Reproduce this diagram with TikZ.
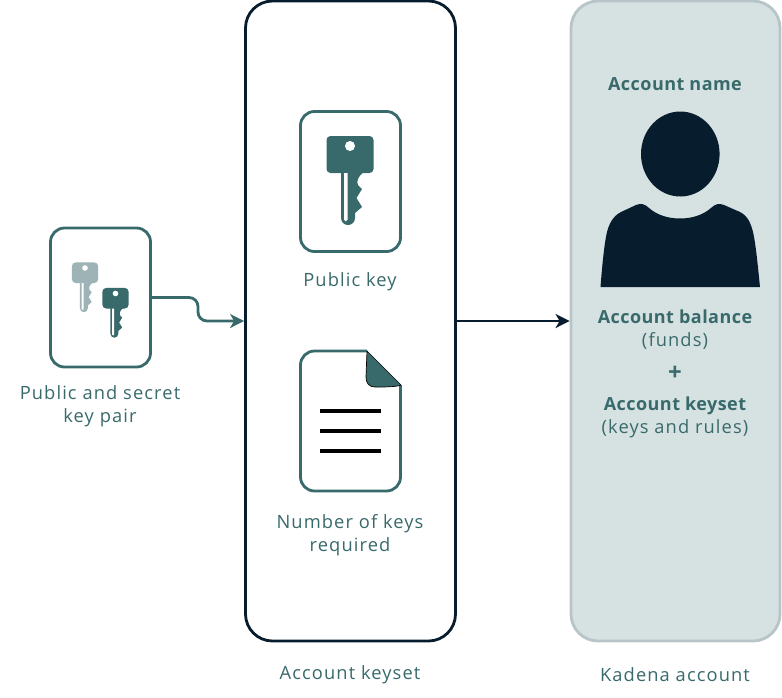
\documentclass[tikz,border=0pt]{standalone}
\usepackage{fontspec}
\setmainfont{Open Sans}
\newfontfamily\reglbl[LetterSpace=6]{Open Sans}
\newfontfamily\boldlbl[LetterSpace=2.5]{Open Sans Bold}
\usetikzlibrary{arrows.meta}
\definecolor{teal}{HTML}{396A6B}
\definecolor{tealL}{HTML}{9DB3B5}
\definecolor{navy}{HTML}{071D2E}
\definecolor{panelfill}{HTML}{D6E1E2}
\definecolor{panelline}{HTML}{B7C4C8}
\tikzset{
 cardbox/.style={draw=teal,line width=2.8pt,rounded corners=14pt,fill=white,minimum width=100pt,minimum height=140pt,inner sep=0pt},
 bigbox/.style={rounded corners=27pt,line width=2.8pt,minimum width=210pt,minimum height=640pt,inner sep=0pt},
 lbl/.style={text=teal,font=\fontsize{18.3}{23}\selectfont\reglbl,align=center,inner sep=0pt},
 blbl/.style={lbl,font=\fontsize{18}{23}\selectfont\boldlbl},
 tip/.style={-{Stealth[length=14pt,width=14pt,inset=4pt]}},
 pics/keyicon/.style={code={
  \fill[#1,rounded corners=4pt] (-23.5,-44) rectangle (23.5,-7);
  \fill[#1] (-9,-9) -- (-9,38) arc[start angle=180,end angle=0,radius=7]
     -- (5,33) -- (12,27) -- (6.5,18) -- (12,9) -- (8,5)
     .. controls (6.5,2) and (7,-3) .. (15,-9) -- cycle;
  \fill[white] (-6,-7) -- (-6,39.5) arc[start angle=180,end angle=0,radius=1.75] -- (-2.5,-7) -- cycle;
  \fill[white] (0,-34) circle[radius=5];
 }}
}
\begin{document}
\begin{tikzpicture}[x=1pt,y=-1pt]
\useasboundingbox (0,0) rectangle (782,697);
\fill[white] (0,0) rectangle (782,697);

\node[bigbox,draw=navy,fill=white] (keyset) at (350.5,321) {};
\node[bigbox,draw=panelline,fill=panelfill,minimum width=209pt] (account) at (675.5,321) {};
\node[cardbox,minimum height=139pt] (pair) at (100.5,297.5) {};
\node[cardbox] (pub) at (350.5,181.5) {};

% keys
\pic at (350,180) {keyicon=teal};
\pic[scale=.56] at (85,287) {keyicon=tealL};
\pic[scale=.56] at (115.5,312.5) {keyicon=teal};

% document
\path[fill=white,draw=teal,line width=2.8pt,rounded corners=14pt]
  (367,351) -- (300.5,351) -- (300.5,491) -- (400.5,491) -- (400.5,385);
\draw[draw=black,line width=.7pt,fill=teal,line join=round]
  (367,351) -- (401,385) .. controls (396,387) and (385,387) .. (375,387)
  .. controls (369,387) and (366,383) .. (366,377) -- cycle;
\coordinate (l1a) at (320,411); \coordinate (l1b) at (381,411);
\coordinate (l2a) at (320,431); \coordinate (l2b) at (381,431);
\coordinate (l3a) at (320,451); \coordinate (l3b) at (381,451);
\draw[black,line width=3.4pt] (l1a) -- (l1b) (l2a) -- (l2b) (l3a) -- (l3b);

% person
\fill[navy] (680.3,154) ellipse[x radius=39.3,y radius=42.5];
\fill[navy] (600.5,287) .. controls (602,268) and (604,245) .. (607,232)
  .. controls (609,224) and (613,216) .. (621,212)
  -- (636,205) .. controls (641,203) and (645,204) .. (649,208)
  .. controls (657,215) and (668,218.5) .. (680,218.5)
  .. controls (692,218.5) and (703,215) .. (711,208)
  .. controls (715,204) and (719,203) .. (724,205)
  -- (740,212) .. controls (748,216) and (751,224) .. (753,232)
  .. controls (756,245) and (758,268) .. (760,287) -- cycle;

% connectors
\draw[teal,line width=2.8pt,tip,rounded corners=9pt] (pair.east) -- (198,297.5) -- (198,321) -- (keyset.west);
\draw[navy,line width=2.8pt,tip] (keyset.east) -- (account.west);

% labels
\node[lbl] (t1) at (100,406) {Public and secret\\key pair};
\node[lbl] (t2) at (350,282) {Public key};
\node[lbl] (t3) at (350,535.5) {Number of keys\\required};
\node[lbl] (t4) at (350,675) {Account keyset};
\node[lbl] (t5) at (675,675) {Kadena account};
\node[blbl] (t6) at (675,84) {Account name};
\node[blbl] (t7) at (675,317) {Account balance};
\node[lbl] (t8) at (675,341) {(funds)};
\node[blbl,font=\fontsize{24}{24}\selectfont\boldlbl] (t9) at (675,373) {+};
\node[blbl] (t10) at (675,406) {Account keyset};
\node[lbl] (t11) at (675,429) {(keys and rules)};
\end{tikzpicture}
\end{document}
